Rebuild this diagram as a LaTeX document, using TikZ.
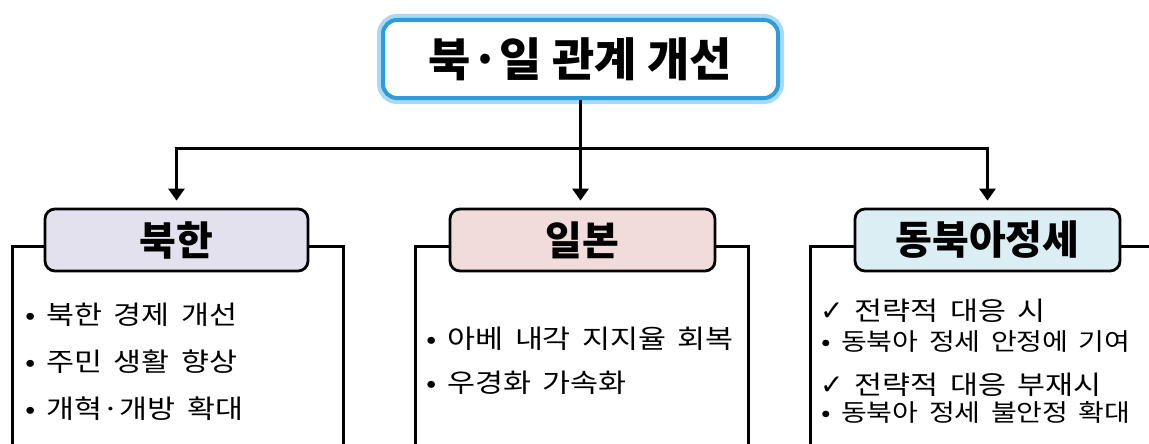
\documentclass[tikz,border=0pt]{standalone}
\usepackage{fontspec}
\newfontfamily\kr{Noto Sans CJK KR}
\newfontfamily\krs[FakeStretch=1.17,WordSpace=1.65]{Noto Sans CJK KR}
\newfontfamily\sym{DejaVu Sans}
\usetikzlibrary{arrows.meta}
\definecolor{glow}{HTML}{A9D9F7}
\definecolor{titleblue}{HTML}{2E9BDA}
\definecolor{nkfill}{HTML}{E4E1EE}
\definecolor{jpfill}{HTML}{F2DCDB}
\definecolor{eafill}{HTML}{DBEEF3}
\begin{document}
\begin{tikzpicture}[x=1pt,y=-1pt,
  conn/.style={line width=3pt, black},
  arr/.style={conn, -{Triangle[length=12pt,width=16pt]}, shorten >=7pt},
  head/.style={draw=black, line width=2.8pt, rounded corners=10pt, minimum height=62pt, inner sep=0pt, font=\kr\bfseries\fontsize{40}{44}\selectfont},
  body/.style={anchor=west, inner sep=0pt, font=\krs\fontsize{26}{30}\selectfont},
  small/.style={anchor=west, inner sep=0pt, font=\krs\fontsize{24}{28}\selectfont},
  titlebox/.style={draw=titleblue, line width=4pt, fill=white, rounded corners=14pt,
     preaction={draw=glow, line width=12pt},
     minimum width=395pt, minimum height=78pt, inner sep=0pt,
     font=\kr\bfseries\fontsize{46}{50}\selectfont},
]
\useasboundingbox (0,0) rectangle (1149,444);
\coordinate (jy) at (0,148);
\coordinate (ly) at (0,246);
\node[titlebox] (top) at (580.5,59) {북·일 관계 개선};
\node[head, fill=nkfill, minimum width=263pt] (nk) at (176.5,240) {북한};
\node[head, fill=jpfill, minimum width=265pt] (jp) at (582.5,240) {일본};
\node[head, fill=eafill, minimum width=265pt] (ea) at (987.5,240) {동북아정세};
% connectors
\draw[arr] (top.south) -- (top.south |- jy) -| (nk.north);
\draw[arr] (top.south) -- (top.south |- jy) -| (ea.north);
\draw[arr] (top.south) -- (top.south |- jp.north);
% open boxes
\coordinate (lb1) at (12,450);
\coordinate (lb2) at (343,450);
\coordinate (mb1) at (415,450);
\coordinate (mb2) at (748,450);
\coordinate (rb1) at (810,450);
\coordinate (rb2) at (1155,246);
\draw[conn] (nk.west |- ly) -| (lb1);
\draw[conn] (nk.east |- ly) -| (lb2);
\draw[conn] (jp.west |- ly) -| (mb1);
\draw[conn] (jp.east |- ly) -| (mb2);
\draw[conn] (ea.west |- ly) -| (rb1);
\draw[conn] (ea.east |- ly) -- (rb2);
% texts
\node[body] (n1) at (25,315) {• 북한 경제 개선};
\node[body] (n2) at (25,362) {• 주민 생활 향상};
\node[body] (n3) at (25,409) {• 개혁·개방 확대};
\node[body] (j1) at (426,339) {• 아베 내각 지지율 회복};
\node[body] (j2) at (426,383) {• 우경화 가속화};
\node[body] (e1) at (820,311) {{\sym\fontsize{28}{30}\selectfont ✓} 전략적 대응 시};
\node[small] (e2) at (821,342) {• 동북아 정세 안정에 기여};
\node[body] (e3) at (820,385) {{\sym\fontsize{28}{30}\selectfont ✓} 전략적 대응 부재시};
\node[small] (e4) at (821,412) {• 동북아 정세 불안정 확대};
\end{tikzpicture}
\end{document}
